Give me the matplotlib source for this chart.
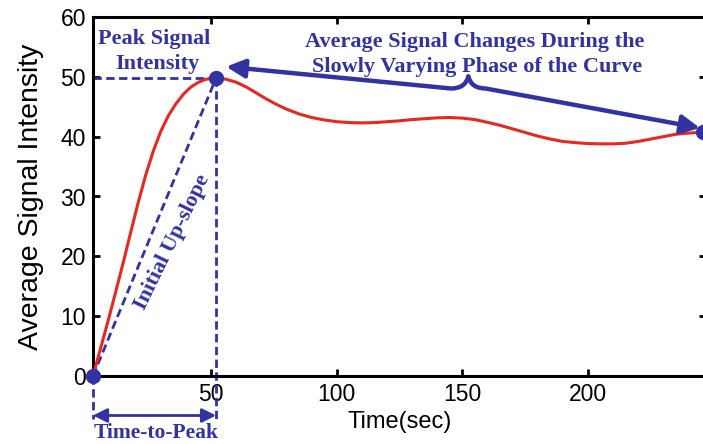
import numpy as np
import matplotlib.pyplot as plt
from matplotlib.patches import FancyArrowPatch
from matplotlib.path import Path

# значения
time_sec = [3, 6, 9, 12, 15, 18, 21, 24, 27, 30, 33, 36, 39, 42, 45, 48, 52, 56, 60,
            64, 68, 72, 76, 80, 85, 90, 95, 100, 105, 110, 115, 120, 125, 130, 135,
            140, 145, 150, 155, 160, 165, 170, 175, 180, 185, 190, 195, 200, 205,
            210, 215, 220, 225, 230, 235, 240, 244, 247]
signal = [0, 4.6, 9.2, 14.0, 18.9, 24.0, 29.0, 33.6, 37.6, 40.9, 43.5, 45.5, 47.1,
          48.3, 49.1, 49.6, 49.8, 49.6, 49.1, 48.3, 47.3, 46.3, 45.4, 44.6, 43.8,
          43.2, 42.8, 42.5, 42.35, 42.3, 42.35, 42.5, 42.65, 42.85, 43.0, 43.15,
          43.2, 43.1, 42.85, 42.4, 41.9, 41.3, 40.7, 40.1, 39.6, 39.2, 39.0, 38.85,
          38.8, 38.8, 38.9, 39.2, 39.6, 40.0, 40.4, 40.6, 40.7, 40.8]

start_time, start_value = 3, 0
peak_time, peak_value = 52, 49.8
end_time, end_value = 246, 40.7

yticks = [0, 10, 20, 30, 40, 50, 60]
xticks = [50, 100, 150, 200]

blue = '#3232A2'
red = '#E62822'
serif = 'Liberation Serif'
sans = 'Liberation Sans'

fig = plt.figure(figsize=(7.03, 4.44), dpi=100)
ax = fig.add_axes([93/703, 68/444, 613/703, 359/444])

ax.plot(time_sec, signal, color=red, lw=2.2, zorder=3)

# пунктир: пик, подъём, время до пика
dash = (0, (3, 1.6))
ax.plot([start_time, peak_time], [peak_value, peak_value], color=blue, lw=2, ls=dash, clip_on=False)
ax.plot([start_time, peak_time], [start_value, peak_value], color=blue, lw=2, ls=dash, clip_on=False)
ax.plot([peak_time, peak_time], [peak_value, -7.2], color=blue, lw=2, ls=dash, clip_on=False)
ax.plot([start_time, start_time], [start_value, -7.2], color=blue, lw=2, ls=dash, clip_on=False)

ax.annotate('', xy=(start_time, -6.6), xytext=(peak_time, -6.6),
            arrowprops=dict(arrowstyle='<|-|>,head_length=0.6,head_width=0.3', lw=2,
                            color=blue, shrinkA=0, shrinkB=0, mutation_scale=14),
            annotation_clip=False)

# точки
ax.plot([start_time, peak_time, end_time], [start_value, peak_value, end_value], 'o',
        color=blue, ms=10, clip_on=False, zorder=5)

# стрелка со скобкой
verts = [(56, 51.7), (145.5, 48.05), (151.3, 48.05), (152.4, 50.1),
         (153.5, 48.05), (159.3, 48.05), (244.6, 41.45)]
codes = [Path.MOVETO, Path.LINETO, Path.CURVE3, Path.CURVE3,
         Path.CURVE3, Path.CURVE3, Path.LINETO]
arr = FancyArrowPatch(path=Path(verts, codes),
                      arrowstyle='<|-|>,head_length=0.7,head_width=0.35',
                      mutation_scale=16, lw=3.2, color=blue, shrinkA=0, shrinkB=0,
                      clip_on=False, zorder=4)
ax.add_patch(arr)

txt = dict(color=blue, family=serif, weight='bold', fontsize=16, ha='center', va='center')
ax.text(27.5, 56.4, 'Peak Signal', **txt)
ax.text(28.5, 52.2, 'Intensity', **txt)
ax.text(155, 55.9, 'Average Signal Changes During the', **txt)
ax.text(156, 51.7, 'Slowly Varying Phase of the Curve', **txt)
ax.text(34.6, 22.3, 'Initial Up-slope', rotation=64, rotation_mode='anchor', **txt)
txt['fontsize'] = 15.5
ax.text(28, -9.45, 'Time-to-Peak', clip_on=False, **txt)

ax.set_xlim(3, 247)
ax.set_ylim(0, 60)
ax.set_xticks(xticks)
ax.set_yticks(yticks)
ax.tick_params(direction='in', top=True, right=True, length=5, width=2,
               labelsize=16.5, pad=5)
for lab in ax.get_xticklabels() + ax.get_yticklabels():
    lab.set_family(sans)
for s in ax.spines.values():
    s.set_linewidth(2.2)

ax.set_xlabel('Time(sec)', family=sans, fontsize=17, labelpad=3.5)
ax.set_ylabel('Average Signal Intensity', family=sans, fontsize=20.5, labelpad=12)

plt.savefig('out.png', dpi=100)
